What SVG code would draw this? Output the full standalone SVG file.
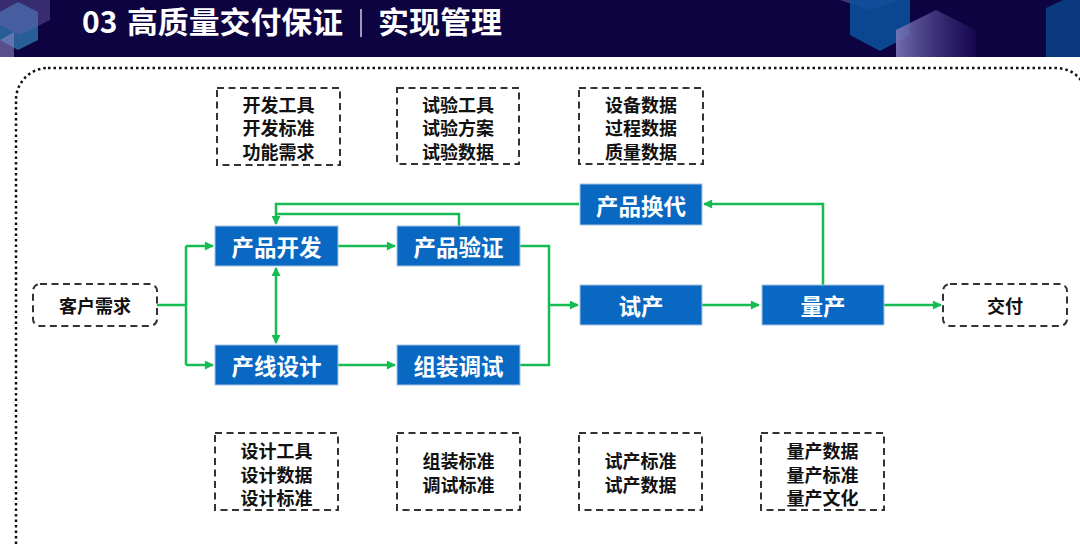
<svg xmlns="http://www.w3.org/2000/svg" width="1080" height="544" viewBox="0 0 1080 544">
<defs>
<style>
.title{font-family:"Noto Sans CJK SC","Noto Sans",sans-serif;font-weight:700;font-size:30px;fill:#ffffff}
.bn rect{fill:#0868c2;stroke:#a8c2e2;stroke-width:1}
.bn text{font-family:"Noto Sans CJK SC",sans-serif;font-weight:700;font-size:22.5px;fill:#ffffff;text-anchor:middle;dominant-baseline:central}
.db rect{fill:none;stroke:#333333;stroke-width:2;stroke-dasharray:7 4.5}
.db text{font-family:"Noto Sans CJK SC",sans-serif;font-weight:700;font-size:18px;fill:#111111;text-anchor:middle;dominant-baseline:central}
.conn path{fill:none;stroke:#16bb52;stroke-width:2.5}
</style>
<marker id="ah" viewBox="0 0 10 10" refX="9" refY="5" markerWidth="10" markerHeight="9" markerUnits="userSpaceOnUse" orient="auto-start-reverse">
<path d="M0,0 L10,5 L0,10 z" fill="#16bb52"/>
</marker>
<linearGradient id="pg" x1="0" y1="0" x2="1" y2="0">
<stop offset="0" stop-color="#7d78b8" stop-opacity="0.9"/>
<stop offset="1" stop-color="#1a0a5a" stop-opacity="0.6"/>
</linearGradient>
</defs>
<rect width="1080" height="544" fill="#ffffff"/>
<g id="header">
<rect x="0" y="0" width="1080" height="57" fill="#0e0341"/>
<polygon points="0,12 18,2 38,12 38,40 18,50 0,40" fill="#2d6fa8" opacity="0.85"/>
<polygon points="-10,-5 20,-20 50,-5 50,20 20,35 -10,20" fill="#6a5fa8" opacity="0.45"/>
<polygon points="0,40 14,32 14,57 0,57" fill="#8a84c0" opacity="0.6"/>
<polygon points="840,-20 880,-20 900,0 870,10 840,0" fill="#7b74c0" opacity="0.45"/>
<polygon points="850,-5 880,-20 910,-5 910,35 880,51 850,35" fill="#0b4f9a" opacity="0.9"/>
<polygon points="896,30 936,10 976,30 976,57 896,57" fill="url(#pg)"/>
<polygon points="1046,8 1080,-8 1080,57 1046,57" fill="#0b3f86" opacity="0.9"/>
<text class="title" x="82" y="33">03</text>
<text class="title" x="127" y="33" textLength="216" lengthAdjust="spacingAndGlyphs">高质量交付保证</text>
<line x1="361" y1="9" x2="361" y2="37" stroke="#ffffff" stroke-width="1.2"/>
<text class="title" x="378" y="33" textLength="124" lengthAdjust="spacingAndGlyphs">实现管理</text>
</g>
<rect id="frame" x="16" y="68" width="1072" height="520" rx="32" fill="none" stroke="#111111" stroke-width="2.5" stroke-dasharray="2.5 3"/>
<g class="conn" id="connectors">
<path d="M157,305 H186 M186,246 V365"/>
<path d="M186,246 H213" marker-end="url(#ah)"/>
<path d="M186,365 H213" marker-end="url(#ah)"/>
<path d="M338,246 H395" marker-end="url(#ah)"/>
<path d="M338,365 H395" marker-end="url(#ah)"/>
<path d="M276,268 V343" marker-start="url(#ah)" marker-end="url(#ah)"/>
<path d="M520,246 H549 V365 H520"/>
<path d="M549,305 H578" marker-end="url(#ah)"/>
<path d="M702,305 H759" marker-end="url(#ah)"/>
<path d="M884,305 H941" marker-end="url(#ah)"/>
<path d="M823,285 V204 H704" marker-end="url(#ah)"/>
<path d="M579,204 H276 V224" marker-end="url(#ah)"/>
<path d="M459,226 V214 H276"/>
</g>
<g class="db" id="n-khxq"><rect x="33" y="284" width="124" height="42" rx="7"/><text x="95" y="305">客户需求</text></g>
<g class="db" id="n-jf"><rect x="943" y="284" width="124" height="42" rx="7"/><text x="1005" y="305">交付</text></g>
<g class="bn" id="n-cpkf"><rect x="215" y="226" width="123" height="40"/><text x="276.5" y="246">产品开发</text></g>
<g class="bn" id="n-cpyz"><rect x="397" y="226" width="123" height="40"/><text x="458.5" y="246">产品验证</text></g>
<g class="bn" id="n-cxsj"><rect x="215" y="345" width="123" height="40"/><text x="276.5" y="365">产线设计</text></g>
<g class="bn" id="n-zzts"><rect x="397" y="345" width="123" height="40"/><text x="458.5" y="365">组装调试</text></g>
<g class="bn" id="n-cphd"><rect x="580" y="184" width="122" height="41"/><text x="641" y="204.5">产品换代</text></g>
<g class="bn" id="n-sc"><rect x="580" y="285" width="122" height="40"/><text x="641" y="305">试产</text></g>
<g class="bn" id="n-lc"><rect x="762" y="285" width="122" height="40"/><text x="823" y="305">量产</text></g>
<g class="db" id="n-kf"><rect x="217" y="88" width="123" height="77"/><text x="278.5" y="103.5">开发工具</text><text x="278.5" y="127">开发标准</text><text x="278.5" y="150.5">功能需求</text></g>
<g class="db" id="n-sy"><rect x="397" y="88" width="122" height="76"/><text x="458" y="103.5">试验工具</text><text x="458" y="127">试验方案</text><text x="458" y="150.5">试验数据</text></g>
<g class="db" id="n-sb"><rect x="579" y="88" width="124" height="76"/><text x="641" y="103.5">设备数据</text><text x="641" y="127">过程数据</text><text x="641" y="150.5">质量数据</text></g>
<g class="db" id="n-sj"><rect x="215" y="433" width="123" height="77"/><text x="276.5" y="450">设计工具</text><text x="276.5" y="473.5">设计数据</text><text x="276.5" y="497">设计标准</text></g>
<g class="db" id="n-zz"><rect x="397" y="433" width="123" height="77"/><text x="458.5" y="460">组装标准</text><text x="458.5" y="484">调试标准</text></g>
<g class="db" id="n-scbz"><rect x="579" y="433" width="123" height="77"/><text x="640.5" y="460">试产标准</text><text x="640.5" y="484">试产数据</text></g>
<g class="db" id="n-lcsj"><rect x="761" y="433" width="123" height="77"/><text x="822.5" y="450">量产数据</text><text x="822.5" y="473.5">量产标准</text><text x="822.5" y="497">量产文化</text></g>
</svg>
